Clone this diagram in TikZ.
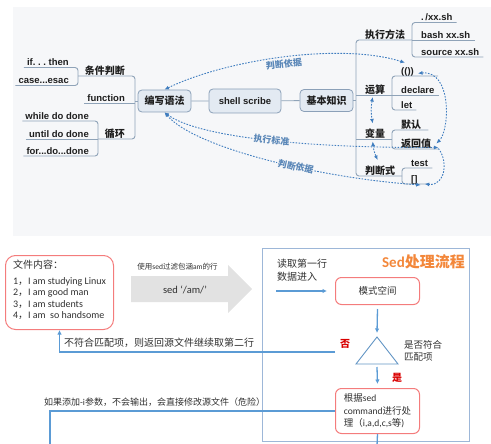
\documentclass[tikz,border=0pt]{standalone}
\usepackage{fontspec}
\setmainfont{Carlito}
\newfontfamily\arialf{Liberation Sans}
\newfontfamily\cjk{Noto Sans CJK SC}
\usetikzlibrary{arrows.meta}
\frenchspacing

\definecolor{bgc}{HTML}{F6F7F9}
\definecolor{inkc}{HTML}{1E1E1E}
\definecolor{branchc}{HTML}{8FA3B8}
\definecolor{topicdraw}{HTML}{8BA0B8}
\definecolor{topicfill}{HTML}{E3EAF2}
\definecolor{depc}{HTML}{3F7DBF}
\definecolor{labelc}{HTML}{5A87B8}
\definecolor{flowblue}{HTML}{5B9BD5}
\definecolor{boxred}{HTML}{F47C7C}
\definecolor{frameblue}{HTML}{9DB7D8}
\definecolor{titleorange}{HTML}{F3873A}
\definecolor{arrowgrey}{HTML}{E2E2E2}
\definecolor{bodyc}{HTML}{303030}

\newcommand\zh[1]{{\cjk #1}}

\begin{document}
\begin{tikzpicture}[
    x=1pt, y=-1pt,
    en/.style={font=\arialf\bfseries\fontsize{9.5}{11}\selectfont},
    zhb/.style={font=\cjk\bfseries\fontsize{10}{12}\selectfont},
    topic/.style={draw=topicdraw, fill=topicfill, rounded corners=4pt, line width=0.8pt,
        minimum height=22pt, inner xsep=5pt, text=inkc, zhb},
    lleaf/.style={anchor=south east, inner xsep=0pt, inner ysep=0.5pt, text depth=1pt, text=inkc,
        execute at begin node=\hspace{3pt}, execute at end node=\hspace{#1}},
    lleaf/.default=9pt,
    rleaf/.style={anchor=south west, inner xsep=0pt, inner ysep=0.5pt, text depth=1pt, text=inkc,
        execute at begin node=\hspace{9pt}, execute at end node=\hspace{#1}},
    rleaf/.default=4pt,
    branch/.style={draw=branchc, line width=0.9pt, rounded corners=3pt},
    dep/.style={draw=depc, line width=0.9pt, dash pattern=on 1.6pt off 1.4pt,
        >={Latex[length=4.5pt,width=4pt]}},
    dlabel/.style={text=labelc, font=\cjk\bfseries\fontsize{9}{10}\selectfont, inner sep=1pt},
    plain/.style={text=bodyc, inner sep=1pt, font=\fontsize{10}{13}\selectfont},
    redbox/.style={draw=boxred, line width=1pt, rounded corners=6pt, text=bodyc, inner sep=2pt,
        font=\fontsize{9.5}{12.5}\selectfont},
    redmark/.style={text=red!85!black, font=\cjk\bfseries\fontsize{10}{12}\selectfont, inner sep=0pt},
    flowarrow/.style={draw=flowblue, line width=1.3pt, -{Latex[length=4.5pt,width=4.5pt]}},
    backline/.style={draw=flowblue, line width=1.3pt}
]
\useasboundingbox (0,0) rectangle (491,444);
\fill[bgc] (13,7) rectangle (491,236);

% shell mind map
\node[topic, minimum width=53pt] (write) at (164.5,101) {编写语法};
\node[topic, en, minimum width=72pt, minimum height=24pt] (shell) at (245,101) {shell scribe};
\node[topic, minimum width=53pt] (basic) at (326.5,100.5) {基本知识};
\draw[branch] (write) -- (shell) -- (basic);

\node[lleaf, en] (ifthen) at (78,67.5) {if. . . then};
\node[lleaf, en] (caseesac) at (78,85.5) {case...esac};
\node[lleaf=10pt, zhb] (cond) at (135,76) {条件判断};
\node[lleaf=10pt, en] (func) at (135,103) {function};
\node[lleaf, en] (while) at (98,121) {while do done};
\node[lleaf, en] (until) at (98,139) {until do done};
\node[lleaf, en] (forloop) at (98,156) {for...do...done};
\node[lleaf=10pt, zhb] (loop) at (135,139) {循环};

\node[rleaf, zhb] (exec) at (356,40) {执行方法};
\node[rleaf, zhb] (calc) at (356,95) {运算};
\node[rleaf, zhb] (var) at (356,139.5) {变量};
\node[rleaf, zhb] (judge) at (356,176) {判断式};
\node[rleaf, en] (dotsh) at (412,22.5) {.\,/xx.sh};
\node[rleaf, en] (bashsh) at (412,40) {bash xx.sh};
\node[rleaf, en] (srcsh) at (412,57) {source xx.sh};
\node[rleaf=24pt, en] (dparen) at (392,76) {(())};
\node[rleaf, en] (declare) at (392,95) {declare};
\node[rleaf, en] (let) at (392,110) {let};
\node[rleaf=7pt, zhb] (default) at (392,130) {默认};
\node[rleaf=7pt, zhb] (retval) at (392,149) {返回值};
\node[rleaf, en] (test) at (402,168) {test};
\node[rleaf=10pt, en] (brk) at (402,184) {[]};

% left branches
\draw[branch] (ifthen.south west) -- (ifthen.south east) -- (caseesac.south east) -- (caseesac.south west);
\draw[branch] (while.south west) -- (while.south east) -- (forloop.south east) -- (forloop.south west);
\draw[branch] (until.south west) -- (until.south east);
\draw[branch] (cond.south -| ifthen.south east) -- (cond.south east) -- (loop.south east) -- (loop.south -| while.south east);
\draw[branch] (func.south west) -- (func.south east);
\draw[branch] (write.west) -- (write.west -| cond.south east);

% right branches
\draw[branch] (exec.south -| bashsh.south west) -- (exec.south west) -- (judge.south west) -- (judge.south -| test.south west);
\draw[branch] (calc.south west) -- (calc.south -| declare.south west);
\draw[branch] (var.south west) -- (var.south -| default.south west);
\draw[branch] (basic.east) -- (basic.east -| exec.south west);
\draw[branch] (dotsh.south east) -- (dotsh.south west) -- (srcsh.south west) -- (srcsh.south east);
\draw[branch] (bashsh.south west) -- (bashsh.south east);
\draw[branch] (dparen.south east) -- (dparen.south west) -- (let.south west) -- (let.south east);
\draw[branch] (declare.south west) -- (declare.south east);
\draw[branch] (default.south east) -- (default.south west) -- (retval.south west) -- (retval.south east);
\draw[branch] (test.south east) -- (test.south west) -- (brk.south west) -- (brk.south east);

% dotted references
\draw[dep, <->] (write.north) .. controls (225,60) and (340,42) .. ([xshift=13pt,yshift=4pt]dparen.north west)
    node[dlabel, pos=0.5, sloped, below=1pt] {判断依据};
\draw[dep, <->] (write.south) .. controls (195,135) and (290,148) .. ([yshift=1.5pt]retval.south east)
    node[dlabel, fill=bgc, pos=0.55, sloped] {执行标准};
\draw[dep, <->] (write.south) .. controls (195,148) and (320,178) .. ([xshift=-7pt,yshift=-1pt]brk.south east)
    node[dlabel, fill=bgc, pos=0.6, sloped] {判断依据};
\draw[dep, <->] ([xshift=26pt,yshift=-2pt]dparen.west) .. controls (452,70) and (450,130) .. ([xshift=-2pt]retval.east);
\draw[dep, ->] ([yshift=-5pt]retval.east) .. controls (448,160) and (446,186) .. ([xshift=-3pt]brk.south east);
\draw[dep, <->] ([yshift=-2pt]calc.south) to[bend right=10] ([yshift=5pt]var.north);
\draw[dep, <->] ([yshift=-2pt]var.south) to[bend right=10] ([yshift=5pt]judge.north);

% sed flow
\node[redbox, align=left, minimum width=108pt, minimum height=74pt, anchor=north west, rounded corners=10pt,
    font=\fontsize{10}{11.5}\selectfont] (file) at (5,255)
    {\zh{文件内容：}\\[4pt]1\zh{，}I am studying Linux\\2\zh{，}I am good man\\3\zh{，}I am students\\4\zh{，}I am~ so handsome\rule[-6pt]{0pt}{6pt}};

\fill[arrowgrey] (131,276) -- (228,276) -- (228,265) -- (252,289) -- (228,313) -- (228,302) -- (131,302) -- cycle;
\node[plain, font=\fontsize{7.5}{9}\selectfont] (filtertip) at (177.5,267) {\zh{使用}sed\zh{过滤包涵}am\zh{的行}};
\node[plain, font=\fontsize{10.5}{12}\selectfont] (sedcmd) at (185,289.5) {sed ‘/am/’};

\node[draw=frameblue, line width=0.9pt, minimum width=207pt, minimum height=193pt, anchor=north west, inner sep=0pt] (flow) at (262,248) {};
\node[anchor=east, text=titleorange, inner sep=0pt, font=\bfseries\fontsize{15}{17}\selectfont] (title) at (465,262) {Sed\zh{处理流程}};

\node[plain, align=left, anchor=north west] (readin) at (276,258) {\zh{读取第一行}\\\zh{数据进入}};
\node[redbox, minimum width=84pt, minimum height=27pt, anchor=north west] (pat) at (335,277) {\zh{模式空间}};
\draw[flowarrow] (readin.west |- pat.west) -- ([xshift=-8pt]pat.west);

\draw[draw=flowblue!80!gray, line width=0.9pt] (377,337) coordinate (apex) -- (398,364) -- (356,364) -- cycle;
\coordinate (basemid) at (377,364);
\node[plain, align=left, anchor=north west, font=\fontsize{9.5}{12}\selectfont] (ask) at (403,339) {\zh{是否符合}\\\zh{匹配项}};
\node[redmark] (no) at (345,344) {否};
\node[redmark] (yes) at (397,378) {是};

\node[redbox, align=left, minimum width=84pt, minimum height=45pt, anchor=north west] (proc) at (335,388)
    {\zh{根据}sed\\command\zh{进行处}\\\zh{理（}i,a,d,c,s\zh{等})};

\draw[flowarrow] ([yshift=-4pt]pat.south) -- ([yshift=4pt]apex);
\draw[flowarrow] ([yshift=-3pt]basemid) -- ([yshift=4pt]proc.north);

\coordinate (nofrom) at (335,352);
\draw[backline, -{Latex[length=4.5pt,width=4.5pt]}] (nofrom) -| (file.south);
\node[plain, anchor=west] (nomatch) at (63,343) {\zh{不符合匹配项，则返回源文件继续取第二行}};

\coordinate (iout) at (50,446);
\draw[backline] (proc.west) -| (iout);
\node[plain, anchor=west, font=\fontsize{9}{11}\selectfont] (inplace) at (43,402) {\zh{如果添加}-i\zh{参数，不会输出，会直接修改源文件（危险）}};

\coordinate (pout) at (377,446);
\draw[backline] (proc.south) -- (pout);
\end{tikzpicture}
\end{document}
